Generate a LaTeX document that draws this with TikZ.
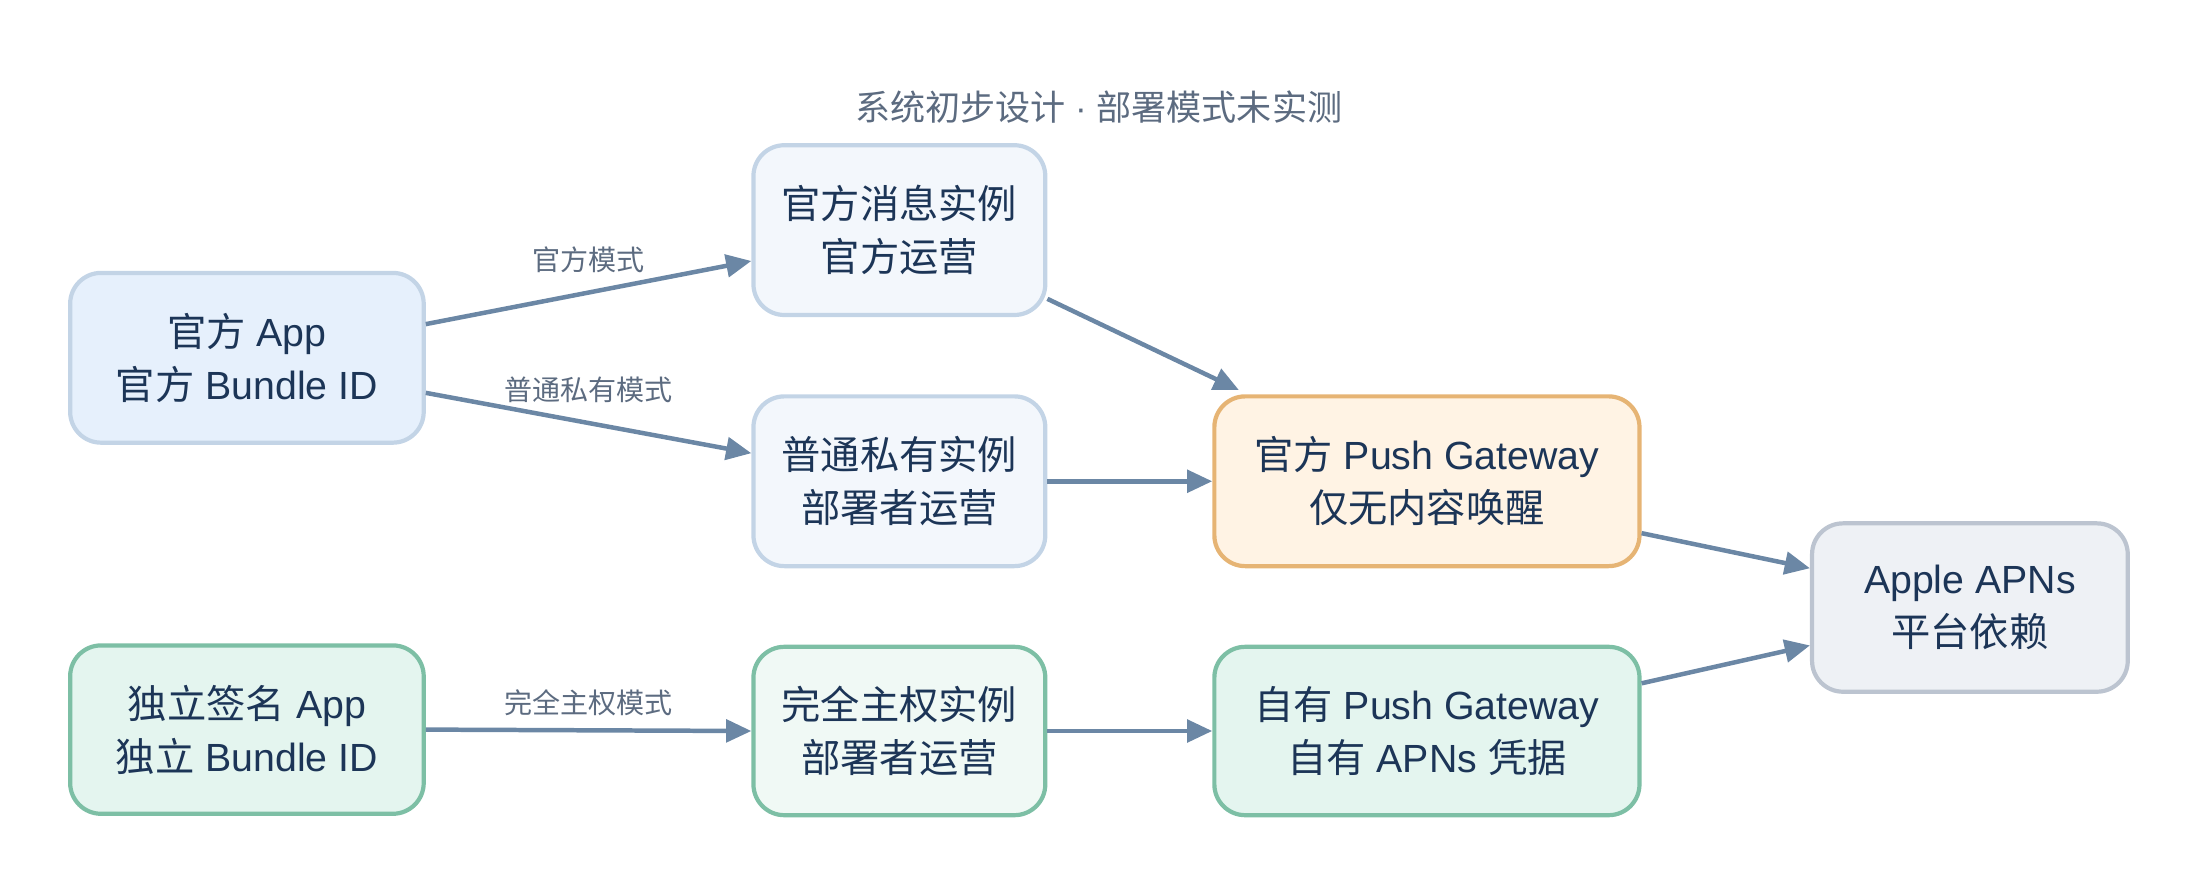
\documentclass[tikz,border=0pt]{standalone}
\usepackage{fontspec}
\setmainfont{Liberation Sans}
\newfontfamily\cjk{Noto Sans CJK SC}
\usetikzlibrary{arrows.meta,calc}
\definecolor{txt}{HTML}{1C3557}
\definecolor{arr}{HTML}{6B87A5}
\definecolor{lbl}{HTML}{5C6B80}
\definecolor{bB}{HTML}{C3D4E6}
\definecolor{gB}{HTML}{7DBFA5}
\definecolor{fA}{HTML}{E6F0FC}
\definecolor{fC}{HTML}{F3F7FC}
\definecolor{fG}{HTML}{E4F5EF}
\definecolor{fE}{HTML}{F0F9F5}
\definecolor{fF}{HTML}{FFF3E4}
\definecolor{oB}{HTML}{E6B474}
\definecolor{fH}{HTML}{EEF1F5}
\definecolor{hB}{HTML}{BCC4D0}
\begin{document}
\begin{tikzpicture}[x=0.5pt,y=-0.5pt,
 box/.style={draw,line width=1.5pt,rounded corners=11pt,align=center,text=txt,font=\fontsize{14}{19}\selectfont,inner sep=0pt},
 e/.style={draw=arr,line width=1.6pt,-{Triangle[length=9pt,width=8pt]}},
 lb/.style={text=lbl,font=\fontsize{10}{12}\selectfont\cjk}]
\useasboundingbox (0,0) rectangle (1568,632);
\node[text=lbl,font=\fontsize{12.5}{14}\selectfont] (t) at (783,76) {{\cjk 系统初步设计} · {\cjk 部署模式未实测}};
\node[box,fill=fA,draw=bB,minimum width=126pt,minimum height=60.5pt] (A) at (176,255) {{\cjk 官方} App\\{\cjk 官方} Bundle ID};
\node[box,fill=fG,draw=gB,minimum width=126pt,minimum height=60pt] (B) at (176,520) {{\cjk 独立签名} App\\{\cjk 独立} Bundle ID};
\node[box,fill=fC,draw=bB,minimum width=104pt,minimum height=60.5pt] (C) at (641,164) {\cjk 官方消息实例\\\cjk 官方运营};
\node[box,fill=fC,draw=bB,minimum width=104pt,minimum height=60.5pt] (D) at (641,343) {\cjk 普通私有实例\\\cjk 部署者运营};
\node[box,fill=fE,draw=gB,minimum width=104pt,minimum height=60pt] (E) at (641,521) {\cjk 完全主权实例\\\cjk 部署者运营};
\node[box,fill=fF,draw=oB,minimum width=151.5pt,minimum height=60.5pt] (F) at (1017,343) {{\cjk 官方} Push Gateway\\{\cjk 仅无内容唤醒}};
\node[box,fill=fG,draw=gB,minimum width=151.5pt,minimum height=60pt] (G) at (1017,521) {{\cjk 自有} Push Gateway\\{\cjk 自有} APNs {\cjk 凭据}};
\node[box,fill=fH,draw=hB,minimum width=112.5pt,minimum height=60pt] (H) at (1404,433) {Apple APNs\\{\cjk 平台依赖}};
\draw[e] ($(A.east)+(0,-24)$) -- node[lb,pos=0.5,above=3pt] {官方模式} ($(C.west)+(0,22)$);
\draw[e] ($(A.east)+(0,25)$) -- node[lb,pos=0.5,above=3pt] {普通私有模式} ($(D.west)+(0,-20)$);
\draw[e] (B.east) -- node[lb,above=1pt] {完全主权模式} (E.west);
\draw[e] ($(C.east)+(0,49)$) -- ($(F.north west)+(19,-3)$);
\draw[e] (D.east) -- (F.west);
\draw[e] (E.east) -- (G.west);
\draw[e] ($(F.east)+(0,37)$) -- ($(H.west)+(0,-28)$);
\draw[e] ($(G.east)+(0,-34)$) -- ($(H.west)+(0,27)$);
\end{tikzpicture}
\end{document}
